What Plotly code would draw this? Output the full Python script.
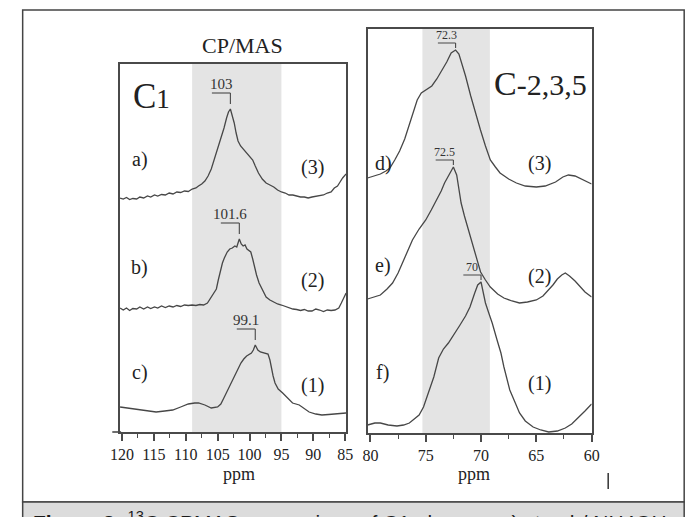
import plotly.graph_objects as go

# ---- C1 region spectra: chemical shift (ppm) and intensity (a.u.) ----
ppm_a = [120.3, 119.8, 119.3, 118.8, 118.3, 117.7, 117.2, 116.6, 116.0, 115.5, 114.9, 114.4,
         113.8, 113.2, 112.6, 112.0, 111.4, 110.8, 110.2, 109.6, 109.0, 108.4, 108.0, 107.5,
         107.0, 106.5, 106.0, 105.5, 105.0, 104.5, 104.0, 103.6, 103.3, 103.0, 102.7, 102.4,
         102.1, 101.8, 101.4, 101.0, 100.5, 100.0, 99.5, 99.1, 98.6, 98.0, 97.4, 96.8, 96.2,
         95.6, 95.0, 94.4, 93.8, 93.2, 92.6, 92.0, 91.4, 90.8, 90.2, 89.6, 89.0, 88.4, 87.8,
         87.2, 86.7, 86.2, 85.8, 85.4, 84.85]
int_a = [2, 1, 2.5, 0.5, 1.5, 1, 3, 2, 4, 3, 5, 4,
         5.5, 5, 7, 6, 8, 7.5, 9, 8.5, 11, 12, 14, 16,
         19, 24, 31, 41, 50, 60, 72, 82, 88, 91, 85, 77,
         67, 59, 54, 51, 47, 44, 40, 34, 27, 21, 17, 15, 13,
         10, 8, 7, 5, 5, 4, 3, 3, 2, 3, 3.5, 4.5, 5, 7,
         8, 12, 14, 18, 22, 26]

ppm_b = [120.3, 119.8, 119.3, 118.8, 118.3, 117.7, 117.2, 116.6, 116.0, 115.5, 114.9, 114.4,
         113.8, 113.2, 112.6, 112.0, 111.4, 110.8, 110.2, 109.6, 109.0, 108.4, 107.8, 107.2,
         106.6, 106.2, 105.9, 105.5, 105.2, 104.9, 104.6, 104.25, 103.95, 103.5, 103.1, 102.7,
         102.3, 102.0, 101.6, 101.3, 101.0, 100.7, 100.4, 100.1, 99.8, 99.5, 99.2, 98.9, 98.5,
         98.0, 97.4, 96.8, 96.2, 95.6, 95.0, 94.4, 93.8, 93.2, 92.6, 92.0, 91.4, 90.8, 90.2,
         89.6, 89.0, 88.4, 87.8, 87.2, 86.6, 86.0, 85.6, 85.3, 84.85]
int_b = [4, 2, 4, 1.5, 3.5, 3, 5, 3, 5, 3.5, 5, 4,
         6, 4.5, 6, 5, 6.5, 5.5, 7, 6.5, 7, 6.5, 7.5, 7,
         9, 13, 17, 20, 23, 32, 40, 49, 54, 60, 63, 64,
         66, 65, 73, 68, 66, 67, 63, 61, 60, 53, 44, 37, 29,
         22, 15, 12, 10, 8, 7, 5.5, 4, 3, 2.5, 1.5, 2.5, 1, 1,
         3, 2, 0.5, 2, 1.5, 2, 4, 9, 13, 19]

ppm_c = [120.3, 119.0, 117.25, 116.0, 114.65, 113.3, 112.05, 110.8, 109.6, 108.6, 108.0, 107.0,
         106.0, 105.0, 104.5, 103.95, 103.2, 102.4, 101.8, 101.35, 100.9, 100.45, 99.7, 99.4,
         99.1, 98.7, 98.3, 97.7, 97.1, 96.8, 96.6, 96.3, 96.0, 95.5, 94.8, 94.0, 93.25, 92.2,
         91.4, 90.65, 89.6, 88.65, 87.6, 86.7, 85.8, 84.85]
int_c = [9, 8, 6, 5, 4, 5, 6, 9, 12, 13, 13, 11,
         8, 9, 12, 19, 29, 39, 47, 53, 57, 60, 63, 66,
         71, 66, 64, 63, 62, 56, 49, 40, 33, 27, 23, 18, 13, 11,
         7, 4, 2, 1, 1.5, 2, 2.5, 3]

# ---- C-2,3,5 region spectra ----
ppm_d = [80.26, 79.6, 79.1, 78.6, 78.24, 77.8, 77.36, 76.9, 76.48, 76.1, 75.77, 75.4, 75.15,
         74.8, 74.45, 74.0, 73.57, 73.1, 72.7, 72.3, 72.0, 71.8, 71.4, 70.93, 70.5, 70.05,
         69.6, 69.16, 68.7, 68.28, 67.5, 66.8, 66.0, 65.0, 64.2, 63.26, 62.6, 62.1, 61.5,
         60.88, 60.4, 60.0]
int_d = [12, 14, 16, 19, 22, 30, 39, 51, 65, 79, 90, 97, 99,
         101, 104, 111, 119, 128, 137, 140, 136, 129, 114, 94, 76, 60,
         44, 30, 23, 17, 11, 7, 4, 3, 4, 8, 13, 15, 14,
         11, 8, 6]

ppm_e = [80.26, 79.6, 79.1, 78.5, 78.0, 77.5, 77.1, 76.6, 76.2, 75.6, 75.0, 74.5, 74.0, 73.6,
         73.3, 72.9, 72.5, 72.2, 71.8, 71.5, 71.19, 70.9, 70.57, 70.3, 70.04, 69.6, 69.16,
         68.5, 67.93, 67.2, 66.52, 65.8, 65.0, 64.4, 63.88, 63.5, 63.1, 62.7, 62.38, 62.0,
         61.5, 61.0, 60.6, 60.0]
int_e = [6, 8, 10, 16, 22, 32, 42, 54, 65, 76, 85, 95, 105, 114,
         122, 130, 138, 130, 102, 89, 77, 65, 53, 42, 33, 25, 18,
         11, 7, 4, 2, 3, 5, 9, 15, 20, 26, 30, 32, 29,
         24, 18, 13, 8]

ppm_f = [80.26, 79.6, 79.1, 78.4, 77.6, 77.0, 76.48, 76.0, 75.6, 75.2, 74.9, 74.6, 74.27, 73.83,
         73.4, 72.95, 72.4, 71.9, 71.4, 71.0, 70.57, 70.3, 70.0, 69.8, 69.6, 69.3, 68.99,
         68.55, 68.2, 67.93, 67.6, 67.4, 66.9, 66.52, 66.0, 65.29, 64.6, 63.88, 63.1, 62.38,
         61.8, 61.23, 60.6, 60.0]
int_f = [8, 10, 10, 8, 7, 8, 10, 14, 18, 26, 36, 46, 56, 75,
         84, 90, 99, 108, 117, 126, 140, 148, 151, 142, 130, 120, 110,
         93, 80, 66, 53, 43, 30, 20, 12, 6, 3, 1, 2, 5,
         9, 15, 22, 29]

# stacking offsets of each trace within its panel
offsets = {"a": 232, "b": 120, "c": 16, "d": 243, "e": 128, "f": 0}

# labelled peak maxima (ppm) and their labels
peak_ppm = {"a": 103.0, "b": 101.6, "c": 99.1, "d": 72.3, "e": 72.5, "f": 70.0}
peak_text = {"a": "103", "b": "101.6", "c": "99.1", "d": "72.3", "e": "72.5", "f": "70"}

# highlighted chemical-shift windows
shade_c1 = [109.0, 95.0]
shade_c235 = [75.3, 69.2]

left_ticks = [120, 115, 110, 105, 100, 95, 90, 85]
right_ticks = [80, 75, 70, 65, 60]

spectra = {
    "a": (ppm_a, int_a, "x", "y"),
    "b": (ppm_b, int_b, "x", "y"),
    "c": (ppm_c, int_c, "x", "y"),
    "d": (ppm_d, int_d, "x2", "y2"),
    "e": (ppm_e, int_e, "x2", "y2"),
    "f": (ppm_f, int_f, "x2", "y2"),
}

SERIF = "Liberation Serif, Times New Roman, serif"
LINE = "#474747"
AX = "#4a4a4a"

fig = go.Figure()
for key, (px_, iy, xa, ya) in spectra.items():
    fig.add_trace(go.Scatter(
        x=px_, y=[v + offsets[key] for v in iy], xaxis=xa, yaxis=ya,
        mode="lines", line=dict(color=LINE, width=1.3), showlegend=False,
        hoverinfo="skip"))

shapes = []
annotations = []

# grey windows
for (x0, x1), xa, ya in [(shade_c1, "x", "y"), (shade_c235, "x2", "y2")]:
    shapes.append(dict(type="rect", xref=xa, yref=ya + " domain", x0=x0, x1=x1, y0=0, y1=1,
                       fillcolor="#e4e4e4", line=dict(width=0), layer="below"))

# peak brackets with their values
for key, (px_, iy, xa, ya) in spectra.items():
    p = peak_ppm[key]
    top = iy[px_.index(p)] + offsets[key]
    if xa == "x":
        w, g0, g1, gt, fs = 2.9, 5, 16, 25, 15
    else:
        w, g0, g1, gt, fs = 1.6, 2, 7, 15, 12
    shapes.append(dict(type="line", xref=xa, yref=ya, x0=p, x1=p, y0=top + g0, y1=top + g1,
                       line=dict(color=LINE, width=1.1)))
    shapes.append(dict(type="line", xref=xa, yref=ya, x0=p + w, x1=p, y0=top + g1, y1=top + g1,
                       line=dict(color=LINE, width=1.1)))
    annotations.append(dict(x=p + w / 2, y=top + gt, xref=xa, yref=ya, text=peak_text[key],
                            showarrow=False, yanchor="middle",
                            font=dict(family=SERIF, size=fs, color="#333")))

# sample letters and series numbers
row_labels = [
    ("a)", 117.2, 273, "x", "y"), ("(3)", 90.2, 265, "x", "y"),
    ("b)", 117.2, 165, "x", "y"), ("(2)", 90.2, 152, "x", "y"),
    ("c)", 117.2, 60, "x", "y"), ("(1)", 90.2, 47, "x", "y"),
    ("d)", 78.85, 270, "x2", "y2"), ("(3)", 64.67, 270, "x2", "y2"),
    ("e)", 78.9, 168, "x2", "y2"), ("(2)", 64.67, 157, "x2", "y2"),
    ("f)", 78.9, 61, "x2", "y2"), ("(1)", 64.67, 50, "x2", "y2"),
]
for t, x, y, xa, ya in row_labels:
    annotations.append(dict(x=x, y=y, xref=xa, yref=ya, text=t, showarrow=False,
                            yanchor="middle",
                            font=dict(family=SERIF, size=20, color="#222")))

# panel titles and axis names
annotations += [
    dict(x=239 / 699, y=1 - 45 / 517, xref="paper", yref="paper", text="CP/MAS",
         showarrow=False, yanchor="middle", font=dict(family=SERIF, size=22, color="#222")),
    dict(x=124 / 699, y=1 - 97 / 517, xref="paper", yref="paper", xanchor="left",
         yanchor="middle", text="C<span style='font-size:27px'>1</span>",
         showarrow=False, font=dict(family=SERIF, size=35, color="#222")),
    dict(x=495 / 699, y=1 - 84 / 517, xref="paper", yref="paper", xanchor="left",
         yanchor="middle", text="C<span style='font-size:30px'>-2,3,5</span>",
         showarrow=False, font=dict(family=SERIF, size=34, color="#222")),
    dict(x=101.7, y=1 - 474 / 517, xref="x", yref="paper", text="ppm", yanchor="middle",
         showarrow=False, font=dict(family=SERIF, size=18, color="#222")),
    dict(x=70.6, y=1 - 474 / 517, xref="x2", yref="paper", text="ppm", yanchor="middle",
         showarrow=False, font=dict(family=SERIF, size=18, color="#222")),
    dict(x=22 / 699, y=1 - 521 / 517, xref="paper", yref="paper", xanchor="left",
         yanchor="middle",
         text="<b>Figure 2:</b> <sup>13</sup>C CPMAS comparison of C1 glucose, a) starch/ NH4OH",
         showarrow=False, font=dict(family="Liberation Sans, Arial, sans-serif", size=21,
                                    color="#1a1a1a")),
]

# outer figure frame and caption band
shapes += [
    dict(type="rect", xref="paper", yref="paper", x0=13 / 699, x1=692 / 699,
         y0=1 - 502 / 517, y1=1 - 10 / 517, line=dict(color="#444", width=1.5)),
    dict(type="rect", xref="paper", yref="paper", x0=13 / 699, x1=692 / 699,
         y0=-0.05, y1=1 - 502 / 517, fillcolor="#dcdcdc", line=dict(color="#444", width=1.5)),
    # axis line running past the left frame of the C1 panel
    dict(type="line", xref="paper", yref="paper", x0=105 / 699, x1=114 / 699,
         y0=1 - 432 / 517, y1=1 - 432 / 517, line=dict(color=AX, width=1.6)),
    dict(type="line", xref="paper", yref="paper", x0=614 / 699, x1=614 / 699,
         y0=1 - 473 / 517, y1=1 - 489 / 517, line=dict(color="#333", width=1.5)),
]


def xaxis_style(domain, rng, ticks, anchor):
    return dict(domain=domain, range=rng, anchor=anchor, tickvals=ticks,
                ticktext=[str(t) for t in ticks], ticks="outside", ticklen=7, tickwidth=1.5,
                tickcolor=AX, showline=True, linecolor=AX, linewidth=1.6, mirror=True,
                showgrid=False, zeroline=False, ticklabelstandoff=0,
                tickfont=dict(family=SERIF, size=16, color="#222"),
                minor=dict(dtick=2.5, tick0=0, ticks="outside", ticklen=4, tickwidth=1.3,
                           tickcolor=AX, showgrid=False))


def yaxis_style(domain, rng, anchor):
    return dict(domain=domain, range=rng, anchor=anchor, showline=True, linecolor=AX,
                linewidth=1.6, mirror=True, showgrid=False, zeroline=False,
                showticklabels=False, ticks="")


fig.update_layout(
    width=699, height=517, margin=dict(l=0, r=0, t=0, b=0),
    paper_bgcolor="white", plot_bgcolor="white", showlegend=False,
    xaxis=xaxis_style([113 / 699, 345 / 699], [120.3, 84.85], left_ticks, "y"),
    yaxis=yaxis_style([1 - 432 / 517, 1 - 64 / 517], [0, 368], "x"),
    xaxis2=xaxis_style([367 / 699, 597 / 699], [80.26, 60.0], right_ticks, "y2"),
    yaxis2=yaxis_style([1 - 433 / 517, 1 - 29 / 517], [0, 404], "x2"),
    shapes=shapes, annotations=annotations,
)

fig.write_html("out.html")
